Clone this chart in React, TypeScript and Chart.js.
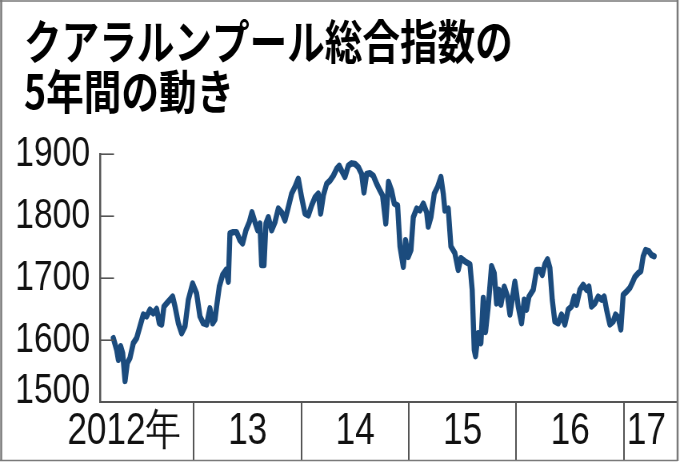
import React, { useEffect, useRef } from 'react';
import { Chart, registerables } from 'chart.js';

Chart.register(...registerables);

const titleLines = ['クアラルンプール総合指数の', '5年間の動き'];

// decimal year of each observation
const dates = [
  2012.250, 2012.281, 2012.297, 2012.318, 2012.337, 2012.359, 2012.380, 2012.405, 2012.436, 2012.467,
  2012.498, 2012.529, 2012.560, 2012.591, 2012.622, 2012.653, 2012.678, 2012.700, 2012.721, 2012.746,
  2012.777, 2012.802, 2012.824, 2012.855, 2012.886, 2012.917, 2012.948, 2012.988, 2013.025, 2013.056,
  2013.087, 2013.118, 2013.149, 2013.174, 2013.196, 2013.211, 2013.236, 2013.267, 2013.298, 2013.320,
  2013.335, 2013.366, 2013.397, 2013.428, 2013.453, 2013.484, 2013.515, 2013.540, 2013.568, 2013.593,
  2013.614, 2013.630, 2013.652, 2013.670, 2013.692, 2013.723, 2013.754, 2013.785, 2013.816, 2013.847,
  2013.878, 2013.909, 2013.940, 2013.971, 2014.002, 2014.033, 2014.064, 2014.095, 2014.126, 2014.157,
  2014.179, 2014.204, 2014.235, 2014.266, 2014.297, 2014.328, 2014.352, 2014.374, 2014.405, 2014.436,
  2014.467, 2014.498, 2014.529, 2014.560, 2014.582, 2014.607, 2014.638, 2014.669, 2014.700, 2014.731,
  2014.755,
  2014.785, 2014.810, 2014.839, 2014.864, 2014.895, 2014.917, 2014.948, 2014.969, 2014.994, 2015.019,
  2015.041, 2015.072, 2015.103, 2015.134, 2015.165, 2015.180, 2015.205, 2015.236, 2015.267, 2015.298,
  2015.320, 2015.335, 2015.366, 2015.391, 2015.428, 2015.459, 2015.484, 2015.521, 2015.568, 2015.589,
  2015.608, 2015.620, 2015.645, 2015.670, 2015.692, 2015.713, 2015.738, 2015.769, 2015.794, 2015.816,
  2015.837, 2015.856, 2015.887, 2015.918, 2015.940, 2015.961, 2015.986, 2016.002, 2016.017, 2016.048,
  2016.073, 2016.095, 2016.117, 2016.157, 2016.188, 2016.219, 2016.241, 2016.265, 2016.290, 2016.312,
  2016.334, 2016.358, 2016.389, 2016.420, 2016.451, 2016.482, 2016.513, 2016.538, 2016.560, 2016.591,
  2016.622, 2016.653, 2016.675, 2016.699, 2016.730, 2016.761, 2016.793, 2016.817, 2016.839, 2016.870,
  2016.901, 2016.923, 2016.948, 2016.972, 2016.994, 2017.025, 2017.056, 2017.078, 2017.103, 2017.134,
  2017.158, 2017.180, 2017.202, 2017.233, 2017.258, 2017.282,
];

const values = [
  1603, 1584, 1568, 1590, 1579, 1534, 1563, 1571, 1595, 1603,
  1622, 1641, 1638, 1649, 1643, 1650, 1627, 1625, 1654, 1659,
  1665, 1670, 1654, 1627, 1611, 1622, 1665, 1691, 1675, 1638,
  1627, 1625, 1651, 1627, 1633, 1654, 1686, 1705, 1713, 1694,
  1772, 1774, 1774, 1761, 1756, 1777, 1790, 1806, 1790, 1777,
  1788, 1721, 1721, 1788, 1798, 1777, 1790, 1812, 1806, 1793,
  1814, 1836, 1847, 1860, 1830, 1804, 1801, 1817, 1830, 1836,
  1804, 1833, 1852, 1857, 1865, 1876, 1881, 1873, 1863, 1881,
  1885, 1884, 1879, 1868, 1838, 1868, 1869, 1865, 1852, 1841,
  1833,
  1788, 1855, 1841, 1820, 1817, 1751, 1718, 1761, 1734, 1745,
  1798, 1812, 1809, 1820, 1806, 1783, 1798, 1836, 1847, 1863,
  1836, 1809, 1812, 1751, 1740, 1713, 1732, 1727, 1722, 1681,
  1584, 1574, 1611, 1595, 1668, 1613, 1654, 1719, 1708, 1659,
  1681, 1657, 1686, 1670, 1641, 1665, 1694, 1675, 1654, 1627,
  1665, 1649, 1670, 1681, 1713, 1713, 1705, 1722, 1730, 1716,
  1665, 1630, 1627, 1641, 1625, 1649, 1654, 1670, 1657, 1681,
  1689, 1681, 1686, 1654, 1659, 1670, 1665, 1670, 1649, 1625,
  1630, 1641, 1636, 1617, 1673, 1678, 1684, 1692, 1702, 1708,
  1711, 1735, 1745, 1743, 1737, 1735,
];

const yTicks = [1500, 1600, 1700, 1800, 1900];
const yearStarts = [2013, 2014, 2015, 2016, 2017];
const xLabelAt = [2012.35, 2013.5, 2014.5, 2015.5, 2016.5, 2017.21];
const xLabels = ['2012年', '13', '14', '15', '16', '17'];
const xMin = 2012.126;
const xMax = 2017.5;
const yMin = 1500;
const yMax = 1900;

// the whole graphic is condensed horizontally (長体)
const SX = 0.8;
const CW = Math.round(680 / SX);
const CH = 462;

const latin = '"Liberation Sans", Arimo, Arial, sans-serif';
const cjk = '"Noto Sans CJK JP", "Noto Sans CJK SC", sans-serif';

const PAD_LEFT = 14;
const TITLE_LEFT = 30;
const PLOT_LEFT = 125;

const decorPlugin = {
  id: 'decor',
  afterLayout(chart: any) {
    // indent the title block relative to the y-axis labels
    const tb = chart.titleBlock;
    if (tb) {
      const d = TITLE_LEFT - tb.left;
      tb.left += d;
      tb.right += d;
    }
  },
  afterDraw(chart: any) {
    const { ctx, chartArea, scales } = chart;
    const ys = scales.y;
    ctx.save();
    ctx.strokeStyle = '#555';
    ctx.lineWidth = 1.6;
    ys.ticks.forEach((t: any) => {
      if (t.value === ys.min) return;
      const py = Math.round(ys.getPixelForValue(t.value)) + 0.2;
      ctx.beginPath();
      ctx.moveTo(chartArea.left, py);
      ctx.lineTo(chartArea.left + 17.5, py);
      ctx.stroke();
    });
    // outer frame
    ctx.strokeStyle = '#7a7a7a';
    ctx.lineWidth = 2.5;
    ctx.beginPath();
    ctx.moveTo(1.5, 0);
    ctx.lineTo(1.5, 461);
    ctx.moveTo(chartArea.right, 0);
    ctx.lineTo(chartArea.right, 461);
    ctx.stroke();
    ctx.lineWidth = 1.6;
    ctx.beginPath();
    ctx.moveTo(0, 1);
    ctx.lineTo(chartArea.right, 1);
    ctx.moveTo(0, 460.5);
    ctx.lineTo(chartArea.right, 460.5);
    ctx.stroke();
    ctx.restore();
  },
};

export default function App() {
  const ref = useRef<HTMLCanvasElement | null>(null);

  useEffect(() => {
    document.body.style.margin = '0';
    const canvas = ref.current;
    if (!canvas) return;
    const chart = new Chart(canvas, {
      type: 'line',
      data: {
        datasets: [
          {
            data: dates.map((d, i) => ({ x: d, y: values[i] })),
            borderColor: '#1b4b7d',
            borderWidth: 6.4,
            pointRadius: 0,
            tension: 0,
            borderJoinStyle: 'round',
            borderCapStyle: 'round',
            fill: false,
          },
        ],
      },
      options: {
        animation: false,
        responsive: false,
        devicePixelRatio: 1,
        events: [],
        layout: { padding: { left: PAD_LEFT, right: 3, top: 0, bottom: 1 } },
        plugins: {
          legend: { display: false },
          tooltip: { enabled: false },
          title: {
            display: true,
            text: titleLines,
            align: 'start',
            color: '#000',
            font: { family: cjk, size: 47, weight: 'bold', lineHeight: 1.064 },
            padding: { top: 16, bottom: 38 },
          },
        },
        scales: {
          x: {
            type: 'linear',
            min: xMin,
            max: xMax,
            afterBuildTicks: (s: any) => {
              s.ticks = [...yearStarts, ...xLabelAt]
                .sort((a, b) => a - b)
                .map((v) => ({ value: v }));
            },
            afterFit: (s: any) => {
              s.height = 59;
            },
            grid: {
              display: true,
              drawOnChartArea: false,
              drawTicks: true,
              tickLength: 59,
              lineWidth: 2,
              color: (c: any) =>
                c.tick && yearStarts.includes(c.tick.value) ? '#555' : 'rgba(0,0,0,0)',
            },
            border: { display: true, color: '#555', width: 2 },
            ticks: {
              autoSkip: false,
              maxRotation: 0,
              minRotation: 0,
              padding: -56,
              color: '#111',
              font: { family: latin, size: 44, lineHeight: 1.2 },
              callback: (v: any) => {
                const i = xLabelAt.indexOf(v);
                return i >= 0 ? xLabels[i] : '';
              },
            },
          },
          y: {
            type: 'linear',
            min: yMin,
            max: yMax,
            afterBuildTicks: (s: any) => {
              s.ticks = yTicks.map((v) => ({ value: v }));
            },
            afterFit: (s: any) => {
              s.width = PLOT_LEFT - PAD_LEFT;
            },
            grid: { display: true, drawOnChartArea: false, drawTicks: false },
            border: { display: true, color: '#555', width: 2.5 },
            ticks: {
              padding: 12.5,
              color: '#111',
              // small line height: single-line labels stay centred, the two-line
              // bottom label is lifted half a line above its tick
              font: { family: latin, size: 42, lineHeight: 0.52 },
              callback: (v: any) => (v === yMin ? [String(v), ''] : String(v)),
            },
          },
        },
      },
      plugins: [decorPlugin],
    } as any);
    return () => chart.destroy();
  }, []);

  return (
    <div style={{ position: 'fixed', left: 0, top: 0, width: 680, height: 462, background: '#fff' }}>
      <canvas
        ref={ref}
        width={CW}
        height={CH}
        style={{ width: '680px', height: '462px', display: 'block' }}
      />
    </div>
  );
}
